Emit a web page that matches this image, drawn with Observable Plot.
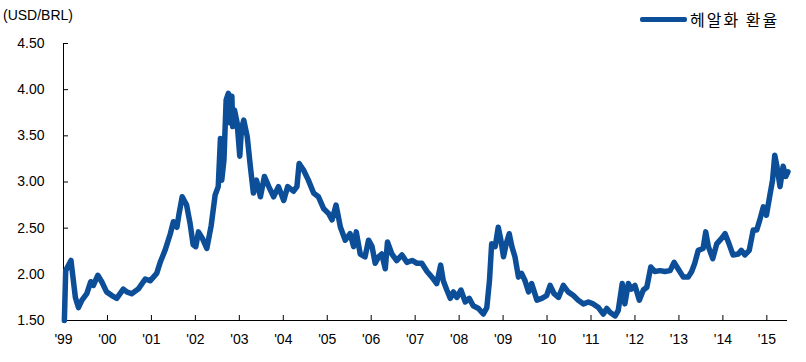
<!DOCTYPE html>
<html>
<head>
<meta charset="utf-8">
<script src="https://cdn.jsdelivr.net/npm/d3@7"></script>
<script src="https://cdn.jsdelivr.net/npm/@observablehq/plot@0.6"></script>
<style>
  html, body { margin: 0; padding: 0; background: #fff; }
  #wrap { position: relative; width: 806px; height: 362px; font-family: "Liberation Sans", Arial, sans-serif; color: #000; }
  #unit { position: absolute; left: 3px; top: 6px; font-size: 14px; line-height: 18px; }
  #legend { position: absolute; left: 640px; top: 9px; height: 20px; display: flex; align-items: center; }
  #legend .sw { width: 47px; height: 5px; background: #0c4e98; border-radius: 2px; margin-right: 3px; }
  #legend .lb { font-family: "Noto Sans CJK KR", sans-serif; font-size: 16px; line-height: 20px; letter-spacing: 2px; }
</style>
</head>
<body>
<div id="wrap">
  <div id="chart"></div>
  <div id="unit">(USD/BRL)</div>
  <div id="legend"><span class="sw"></span><span class="lb">헤알화 환율</span></div>
</div>
<script>
// Series: decimal year and USD/BRL rate
const years = [
  1999.02, 1999.05, 1999.17, 1999.27, 1999.34, 1999.42, 1999.53, 1999.62, 1999.68, 1999.78,
  1999.87, 1999.98, 2000.10, 2000.21, 2000.36, 2000.44, 2000.55, 2000.70, 2000.86, 2000.97,
  2001.12, 2001.20, 2001.31, 2001.43, 2001.50, 2001.58, 2001.63, 2001.70, 2001.80, 2001.88,
  2001.95, 2002.01, 2002.07, 2002.16, 2002.26, 2002.36, 2002.45, 2002.52, 2002.57, 2002.60,
  2002.65, 2002.70, 2002.75, 2002.79, 2002.83, 2002.85, 2002.89, 2002.95, 2003.01, 2003.05,
  2003.10, 2003.18, 2003.25, 2003.32, 2003.39, 2003.48, 2003.57, 2003.67, 2003.78, 2003.89,
  2004.01, 2004.10, 2004.23, 2004.31, 2004.36, 2004.46, 2004.57, 2004.69, 2004.80, 2004.92,
  2005.03, 2005.11, 2005.20, 2005.30, 2005.41, 2005.52, 2005.60, 2005.66, 2005.75, 2005.86,
  2005.94, 2006.02, 2006.09, 2006.17, 2006.24, 2006.32, 2006.37, 2006.47, 2006.58, 2006.70,
  2006.81, 2006.93, 2007.04, 2007.15, 2007.27, 2007.38, 2007.49, 2007.58, 2007.64, 2007.72,
  2007.80, 2007.87, 2007.95, 2008.04, 2008.14, 2008.23, 2008.32, 2008.44, 2008.55, 2008.63,
  2008.69, 2008.74, 2008.82, 2008.89, 2008.95, 2009.01, 2009.07, 2009.14, 2009.20, 2009.27,
  2009.35, 2009.42, 2009.50, 2009.58, 2009.65, 2009.77, 2009.88, 2009.99, 2010.07, 2010.16,
  2010.26, 2010.37, 2010.48, 2010.60, 2010.71, 2010.83, 2010.94, 2011.05, 2011.17, 2011.28,
  2011.36, 2011.43, 2011.55, 2011.62, 2011.71, 2011.77, 2011.85, 2011.92, 2012.00, 2012.10,
  2012.19, 2012.27, 2012.36, 2012.45, 2012.57, 2012.68, 2012.80, 2012.89, 2012.98, 2013.10,
  2013.21, 2013.29, 2013.36, 2013.44, 2013.55, 2013.61, 2013.67, 2013.77, 2013.86, 2013.97,
  2014.05, 2014.14, 2014.23, 2014.35, 2014.42, 2014.50, 2014.60, 2014.69, 2014.77, 2014.84,
  2014.92, 2014.99, 2015.07, 2015.13, 2015.18, 2015.23, 2015.30, 2015.37, 2015.43, 2015.48
];
const rates = [
  1.50, 2.04, 2.15, 1.75, 1.64, 1.72, 1.79, 1.92, 1.88, 1.99,
  1.92, 1.81, 1.77, 1.74, 1.84, 1.81, 1.79, 1.84, 1.95, 1.93,
  2.01, 2.13, 2.26, 2.44, 2.57, 2.51, 2.66, 2.84, 2.75, 2.55,
  2.32, 2.30, 2.46, 2.39, 2.28, 2.53, 2.86, 2.95, 3.47, 3.02,
  3.24, 3.89, 3.96, 3.64, 3.93, 3.60, 3.78, 3.64, 3.28, 3.58,
  3.67, 3.49, 3.17, 2.88, 3.02, 2.84, 3.06, 2.95, 2.84, 2.95,
  2.80, 2.95, 2.90, 2.95, 3.20, 3.13, 3.02, 2.88, 2.84, 2.71,
  2.66, 2.59, 2.75, 2.51, 2.37, 2.44, 2.30, 2.46, 2.22, 2.19,
  2.37, 2.30, 2.12, 2.19, 2.22, 2.06, 2.35, 2.22, 2.15, 2.21,
  2.13, 2.15, 2.12, 2.12, 2.03, 1.97, 1.90, 2.10, 1.93, 1.83,
  1.74, 1.81, 1.75, 1.83, 1.70, 1.74, 1.66, 1.63, 1.57, 1.64,
  1.93, 2.33, 2.30, 2.51, 2.37, 2.19, 2.33, 2.44, 2.30, 2.19,
  1.97, 2.01, 1.93, 1.81, 1.90, 1.72, 1.74, 1.77, 1.88, 1.79,
  1.75, 1.88, 1.81, 1.77, 1.72, 1.68, 1.70, 1.68, 1.64, 1.57,
  1.63, 1.59, 1.55, 1.61, 1.90, 1.68, 1.90, 1.84, 1.88, 1.72,
  1.83, 1.86, 2.08, 2.03, 2.04, 2.03, 2.04, 2.13, 2.06, 1.97,
  1.97, 2.03, 2.12, 2.26, 2.28, 2.46, 2.30, 2.17, 2.33, 2.39,
  2.44, 2.33, 2.21, 2.22, 2.26, 2.21, 2.26, 2.48, 2.48, 2.59,
  2.73, 2.64, 2.86, 3.02, 3.29, 3.17, 2.95, 3.17, 3.06, 3.11
];
const yTicks = [1.5, 2.0, 2.5, 3.0, 3.5, 4.0, 4.5];
const xTicks = [1999, 2000, 2001, 2002, 2003, 2004, 2005, 2006, 2007, 2008, 2009, 2010, 2011, 2012, 2013, 2014, 2015];
const xTickLabels = ["'99", "'00", "'01", "'02", "'03", "'04", "'05", "'06", "'07", "'08", "'09", "'10", "'11", "'12", "'13", "'14", "'15"];
const seriesName = "헤알화 환율";
const lineColor = "#0c4e98";

const data = years.map((t, i) => ({t, v: rates[i]}));

const chart = Plot.plot({
  width: 806,
  height: 362,
  marginLeft: 63,
  marginRight: 19,
  marginTop: 43,
  marginBottom: 42,
  x: {domain: [1999, 2015.47]},
  y: {domain: [1.5, 4.5]},
  style: {fontFamily: "'Liberation Sans', Arial, sans-serif", fontSize: "14px", color: "#000", background: "#fff"},
  marks: [
    Plot.axisY(yTicks, {tickSize: -5, tickPadding: 24, tickFormat: d3.format(".2f"), label: null, stroke: "#000"}),
    Plot.axisX(xTicks, {tickSize: -5, tickPadding: 19, tickFormat: (d) => xTickLabels[xTicks.indexOf(d)], label: null, stroke: "#000"}),
    Plot.ruleX([1999], {stroke: "#000"}),
    Plot.ruleY([1.5], {stroke: "#000"}),
    Plot.line(data, {x: "t", y: "v", stroke: lineColor, strokeWidth: 5.5, strokeLinejoin: "round", strokeLinecap: "round"})
  ]
});
document.getElementById("chart").appendChild(chart);
</script>
</body>
</html>
